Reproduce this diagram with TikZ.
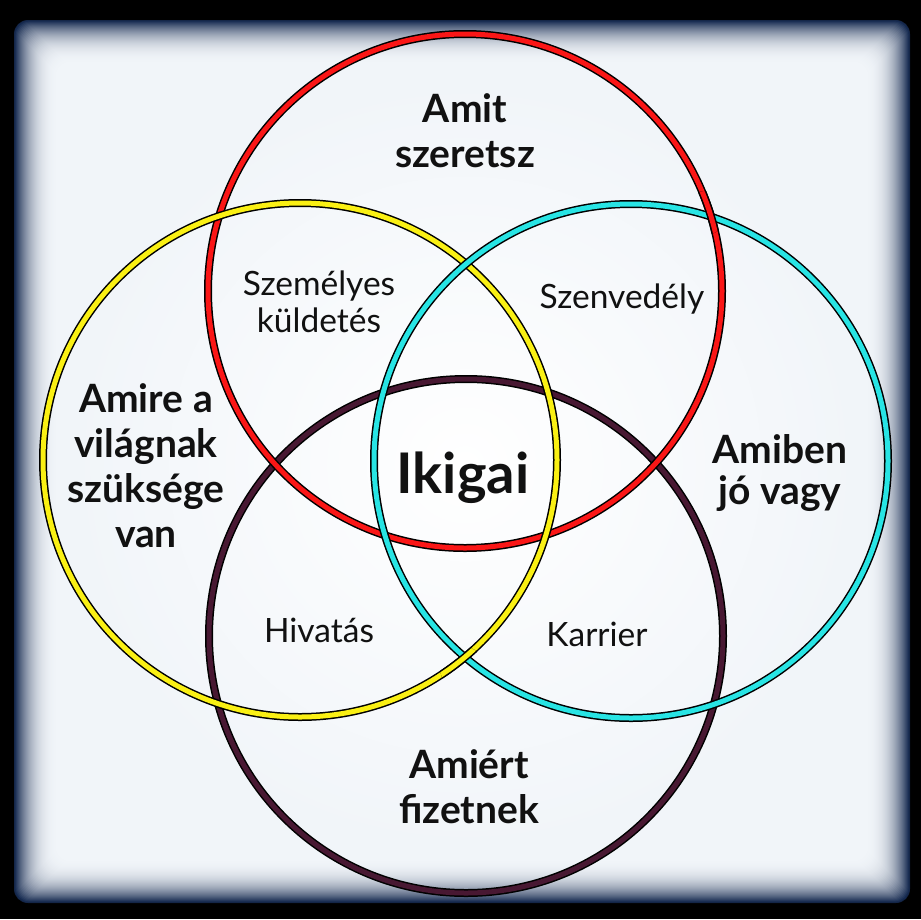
\documentclass[tikz,border=0pt]{standalone}
\usepackage{fontspec}
\setmainfont{Lato}
\definecolor{paper}{RGB}{241,245,249}
\definecolor{vig}{RGB}{22,42,80}
\definecolor{cred}{RGB}{250,22,22}
\definecolor{cyel}{RGB}{250,240,20}
\definecolor{ccyan}{RGB}{40,228,228}
\definecolor{cpur}{RGB}{72,24,50}
\definecolor{txt}{RGB}{17,17,17}
\tikzset{
  big/.style={font=\fontsize{39}{45}\selectfont\bfseries, align=center, inner sep=0pt, anchor=base, text=txt},
  small/.style={font=\fontsize{33.5}{37}\selectfont, align=center, inner sep=0pt, anchor=base, text=txt},
}
\newcommand{\ringdraw}[2]{%
  \draw[line width=8pt, draw=black] #1 circle (257);
  \draw[line width=5pt, draw=#2] #1 circle (257);
}
\begin{document}
\begin{tikzpicture}[x=1pt,y=-1pt]
\useasboundingbox (0,0) rectangle (921,919);
% frame
\fill[black] (0,0) rectangle (921,919);
\fill[vig!85!black, rounded corners=14pt] (14,20) rectangle (910,903);
\foreach \i in {0,...,44} {
  \pgfmathsetmacro\p{100*(1-\i/45)^2.6}
  \fill[vig!\p!paper, rounded corners=14pt]
    (14+\i+0.6,20+\i+0.6) rectangle (910-\i-0.6,903-\i-0.6);
}
\shade[inner color=white, outer color=paper] (70,80) rectangle (860,850);
% circles
\coordinate (cP) at (466,636);
\coordinate (cR) at (465,291);
\coordinate (cY) at (300,460);
\coordinate (cC) at (631,461);
\ringdraw{(cP)}{cpur}
\ringdraw{(cR)}{cred}
\ringdraw{(cY)}{cyel}
\ringdraw{(cC)}{ccyan}
\begin{scope}
  \clip (705,213) circle (22);
  \ringdraw{(cR)}{cred}
\end{scope}
\begin{scope}
  \clip (462,668) circle (22);
  \ringdraw{(cY)}{cyel}
\end{scope}
% labels (anchor base = last line baseline)
\node[big] (amit) at (465,167) {Amit\\szeretsz};
\node[big] (amire) at (146,547) {Amire a\\világnak\\szüksége\\van};
\node[big, font=\fontsize{39}{41}\selectfont\bfseries] (amiben) at (780,504) {Amiben\\jó vagy};
\node[big] (amiert) at (469,823) {Amiért\\fizetnek};
\node[small] (szem) at (319,332) {Személyes\\küldetés};
\node[small] (szenv) at (622,308) {Szenvedély};
\node[small] (hiv) at (319,642) {Hivatás};
\node[small] (karr) at (597,646) {Karrier};
\node[big, font=\fontsize{56}{60}\selectfont\bfseries] (ikigai) at (463,493) {Ikigai};
\end{tikzpicture}
\end{document}
